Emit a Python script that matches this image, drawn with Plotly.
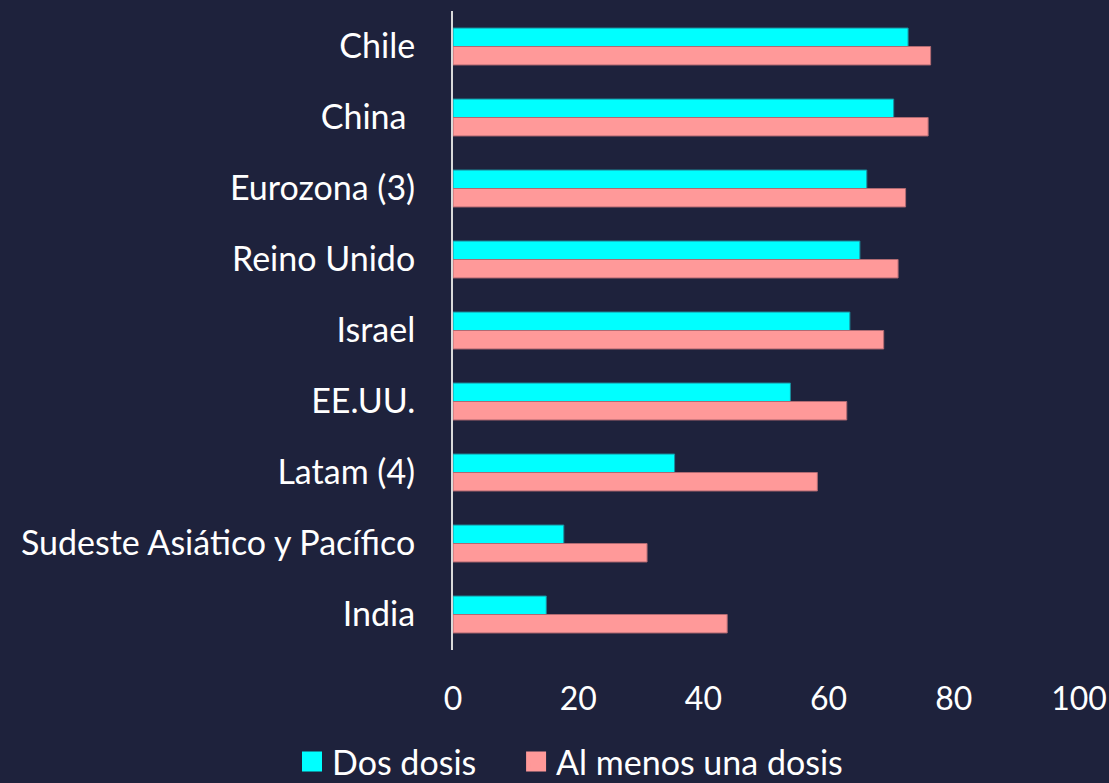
import plotly.graph_objects as go

categories = ["Chile", "China ", "Eurozona (3)", "Reino Unido", "Israel", "EE.UU.",
              "Latam (4)", "Sudeste Asiático y Pacífico", "India"]
dos_dosis = [72.7, 70.4, 66.1, 65.0, 63.4, 53.9, 35.4, 17.7, 14.9]
al_menos_una = [76.3, 75.9, 72.3, 71.1, 68.8, 62.9, 58.2, 31.0, 43.8]
x_ticks = [0, 20, 40, 60, 80, 100]

BG = "#1e223c"
CYAN = "#00ffff"
SALMON = "#ff9999"
FONT = "Lato"
FS = 34
NB = "\u00a0"

fig = go.Figure()
fig.add_trace(go.Bar(y=categories, x=dos_dosis, orientation="h", name="Dos dosis",
                     marker=dict(color=CYAN, line=dict(color="#1b8d9c", width=1)),
                     showlegend=False))
fig.add_trace(go.Bar(y=categories, x=al_menos_una, orientation="h", name="Al menos una dosis",
                     marker=dict(color=SALMON, line=dict(color="#b06a72", width=1)),
                     showlegend=False))
# legend entries with square symbols
fig.add_trace(go.Scatter(x=[None], y=[None], mode="markers", name="Dos dosis" + NB * 4,
                         marker=dict(symbol="square", size=16, color=CYAN,
                                     line=dict(color=CYAN, width=4))))
fig.add_trace(go.Scatter(x=[None], y=[None], mode="markers", name="Al menos una dosis",
                         marker=dict(symbol="square", size=16, color=SALMON,
                                     line=dict(color=SALMON, width=4))))

fig.update_layout(
    width=1109, height=783,
    paper_bgcolor=BG, plot_bgcolor=BG,
    margin=dict(l=453, r=30, t=11, b=133, autoexpand=False),
    barmode="group", bargap=0.48, bargroupgap=0,
    font=dict(family=FONT, color="white", size=FS),
    legend=dict(orientation="h", xref="container", yref="container",
                x=0.514, xanchor="center", y=0.027, yanchor="middle",
                font=dict(size=FS, color="white"), bgcolor="rgba(0,0,0,0)",
                itemsizing="trace", itemwidth=30, tracegroupgap=0),
    xaxis=dict(range=[0, 100], tickvals=x_ticks, showgrid=False, zeroline=False,
               showline=False, ticks="", ticklabelstandoff=27,
               ticklabeloverflow="allow", automargin=False,
               tickfont=dict(size=32, color="white")),
    yaxis=dict(categoryorder="array", categoryarray=categories, autorange="reversed",
               showgrid=False, zeroline=False, showline=True, linecolor="#d9d9d9",
               linewidth=2, ticks="", ticklabelstandoff=29, automargin=False,
               tickfont=dict(size=FS, color="white")),
)

fig.write_html("out.html", config={"displayModeBar": False},
               post_script="document.body.style.margin='0';")
